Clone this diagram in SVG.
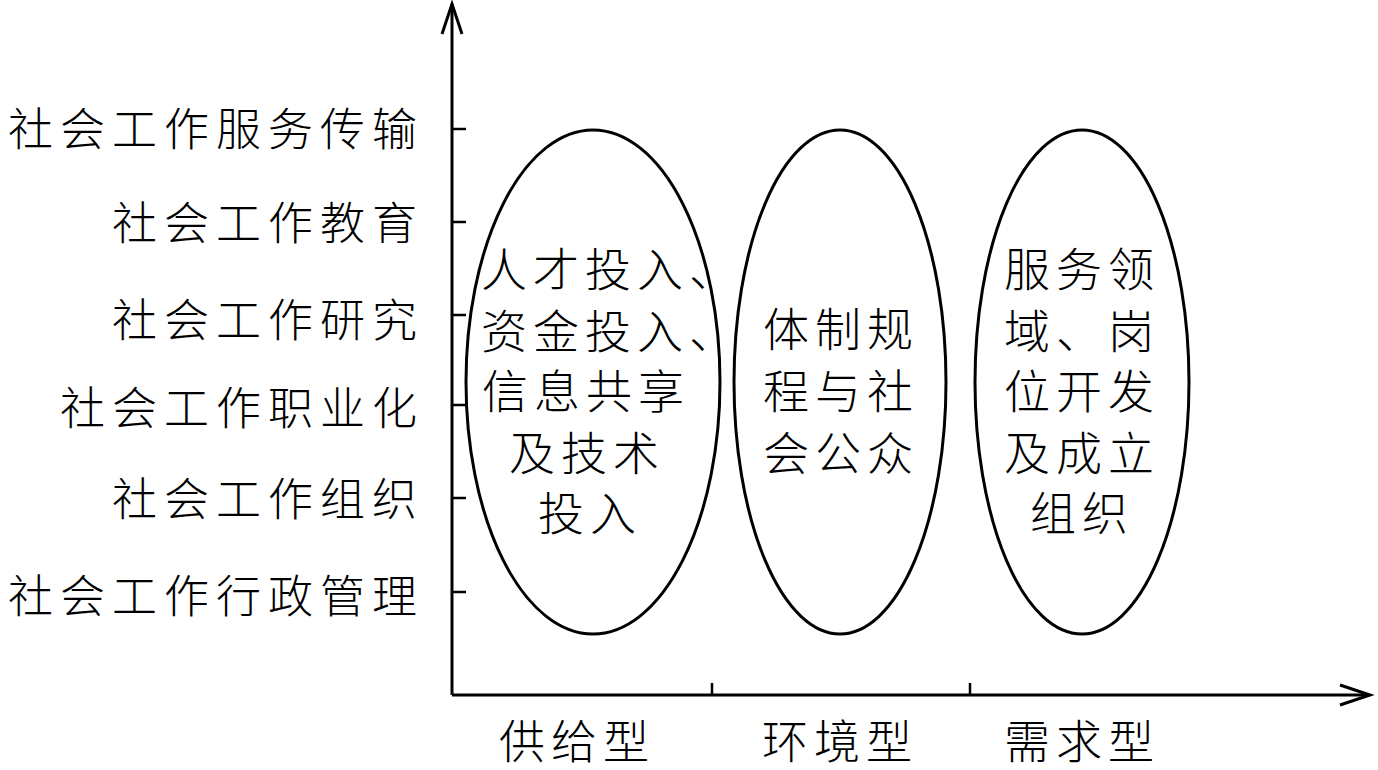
<svg xmlns="http://www.w3.org/2000/svg" width="1378" height="770" viewBox="0 0 1378 770">
<style>
.t{font-family:"Noto Sans CJK SC","Noto Sans CJK JP",sans-serif;fill:#000;font-weight:300}
.lbl{font-size:45px;letter-spacing:7px;text-anchor:end}
.in{font-size:46px;letter-spacing:6px}
.ax{stroke:#000;stroke-width:3;fill:none}
.tk{stroke:#000;stroke-width:2.5;fill:none}
.el{stroke:#000;stroke-width:3;fill:none}
</style>
<defs>
<marker id="arr" markerUnits="userSpaceOnUse" markerWidth="34" markerHeight="24" refX="30" refY="10" orient="auto" overflow="visible">
<path d="M0,0 L30,10 L0,20" fill="none" stroke="#000" stroke-width="3"/>
</marker>
</defs>
<g id="connectors">
<line class="ax" x1="452" y1="695" x2="452" y2="4" marker-end="url(#arr)"/>
<line class="ax" x1="452" y1="695" x2="1370" y2="695" marker-end="url(#arr)"/>
<g id="yticks">
<line class="tk" x1="452" y1="129" x2="466" y2="129"/>
<line class="tk" x1="452" y1="222" x2="466" y2="222"/>
<line class="tk" x1="452" y1="315" x2="466" y2="315"/>
<line class="tk" x1="452" y1="405" x2="466" y2="405"/>
<line class="tk" x1="452" y1="498" x2="466" y2="498"/>
<line class="tk" x1="452" y1="592" x2="466" y2="592"/>
</g>
<g id="xticks">
<line class="tk" x1="712" y1="683" x2="712" y2="695"/>
<line class="tk" x1="970" y1="683" x2="970" y2="695"/>
</g>
</g>
<g id="ylabels">
<text class="t lbl" x="424" y="146">社会工作服务传输</text>
<text class="t lbl" x="424" y="240">社会工作教育</text>
<text class="t lbl" x="424" y="337">社会工作研究</text>
<text class="t lbl" x="424" y="425">社会工作职业化</text>
<text class="t lbl" x="424" y="516">社会工作组织</text>
<text class="t lbl" x="424" y="613">社会工作行政管理</text>
</g>
<g id="node-supply">
<ellipse class="el" cx="593" cy="382" rx="127" ry="252"/>
<text class="t in" x="481" y="286">人才投入、</text>
<text class="t in" x="481" y="348">资金投入、</text>
<text class="t in" x="482" y="408">信息共享</text>
<text class="t in" x="509" y="470">及技术</text>
<text class="t in" x="538" y="530">投入</text>
</g>
<g id="node-env">
<ellipse class="el" cx="840" cy="382" rx="106" ry="252"/>
<text class="t in" x="763" y="346">体制规</text>
<text class="t in" x="763" y="408">程与社</text>
<text class="t in" x="763" y="470">会公众</text>
</g>
<g id="node-demand">
<ellipse class="el" cx="1082" cy="382" rx="107" ry="252"/>
<text class="t in" x="1004" y="286">服务领</text>
<text class="t in" x="1004" y="348">域、岗</text>
<text class="t in" x="1004" y="408">位开发</text>
<text class="t in" x="1004" y="470">及成立</text>
<text class="t in" x="1030" y="530">组织</text>
</g>
<g id="xlabels">
<text class="t in" x="499" y="758">供给型</text>
<text class="t in" x="762" y="758">环境型</text>
<text class="t in" x="1004" y="758">需求型</text>
</g>
</svg>
